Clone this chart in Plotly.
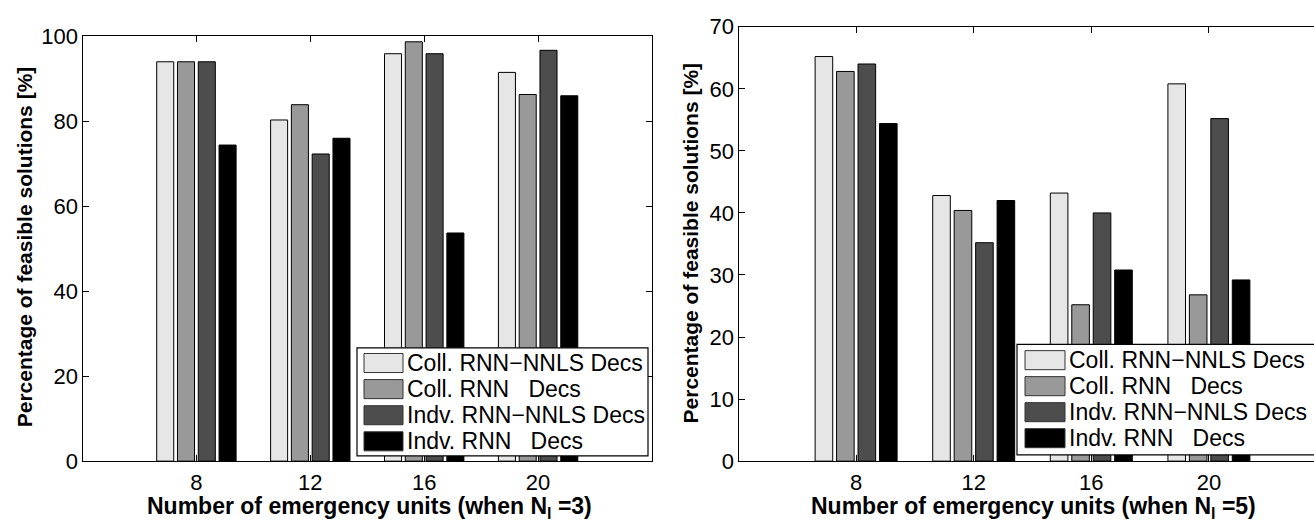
import plotly.graph_objects as go

# ---------------- data ----------------
units = [8, 12, 16, 20]
series_names = ["Coll. RNN\u2212NNLS Decs", "Coll. RNN\u00a0\u00a0\u00a0Decs",
                "Indv. RNN\u2212NNLS Decs", "Indv. RNN\u00a0\u00a0\u00a0Decs"]

# N_l = 3 (left panel)
coll_nnls_3 = [94.0, 80.3, 95.9, 91.5]
coll_rnn_3 = [94.0, 83.9, 98.7, 86.3]
indv_nnls_3 = [94.0, 72.3, 95.9, 96.7]
indv_rnn_3 = [74.4, 76.0, 53.7, 86.0]

# N_l = 5 (right panel)
coll_nnls_5 = [65.2, 42.8, 43.2, 60.8]
coll_rnn_5 = [62.8, 40.4, 25.2, 26.8]
indv_nnls_5 = [64.0, 35.2, 40.0, 55.2]
indv_rnn_5 = [54.4, 42.0, 30.8, 29.2]

left_ticks = [0, 20, 40, 60, 80, 100]
right_ticks = [0, 10, 20, 30, 40, 50, 60, 70]

# ---------------- style ----------------
W, H = 1314, 527
colors = ["#e6e6e6", "#999999", "#4d4d4d", "#000000"]
FONT = "Liberation Sans, Arial, Helvetica, sans-serif"
TICK_SIZE = 22
LEG_SIZE = 23
TITLE_SIZE = 23


def px(x):
    return x / W


def py(y):
    return 1 - y / H


xpos = list(range(1, len(units) + 1))

fig = go.Figure()
left_data = [coll_nnls_3, coll_rnn_3, indv_nnls_3, indv_rnn_3]
right_data = [coll_nnls_5, coll_rnn_5, indv_nnls_5, indv_rnn_5]
for name, vals, c in zip(series_names, left_data, colors):
    fig.add_trace(go.Bar(x=xpos, y=vals, name=name, marker=dict(color=c, line=dict(color="#000", width=1)),
                         xaxis="x", yaxis="y", showlegend=False))
for name, vals, c in zip(series_names, right_data, colors):
    fig.add_trace(go.Bar(x=xpos, y=vals, name=name, marker=dict(color=c, line=dict(color="#000", width=1)),
                         xaxis="x2", yaxis="y2", showlegend=False))

axis_common = dict(showgrid=False, zeroline=False, showline=True, linecolor="#000", linewidth=1.2,
                   ticks="inside", ticklen=6, tickwidth=1, tickcolor="#000",
                   tickfont=dict(family=FONT, size=TICK_SIZE, color="#000"))

fig.update_layout(
    width=W, height=H, margin=dict(l=0, r=0, t=0, b=0),
    paper_bgcolor="white", plot_bgcolor="white",
    barmode="group", bargap=0.27, bargroupgap=0.18,
    xaxis=dict(domain=[px(82.5), px(652)], range=[0, 5], tickvals=xpos, ticktext=[str(u) for u in units],
               mirror="ticks", anchor="y", ticklabelstandoff=1, **axis_common),
    yaxis=dict(domain=[py(471.5), py(25.5)], range=[0, 100], tickvals=left_ticks,
               mirror="ticks", anchor="x", ticklabelstandoff=-1, **axis_common),
    xaxis2=dict(domain=[px(738.5), 1.0], range=[0, 575.5 / 117.6], tickvals=xpos,
                ticktext=[str(u) for u in units], mirror="ticks", anchor="y2", ticklabelstandoff=1,
                **axis_common),
    yaxis2=dict(domain=[py(471.5), py(15.5)], range=[0, 70], tickvals=right_ticks,
                mirror=False, anchor="x2", ticklabelstandoff=-1, **axis_common),
)

annotations = []
shapes = []

# axis titles
annotations.append(dict(text="<b>Number of emergency units (when N<sub>l</sub> =3)</b>", x=px(369), y=py(520),
                        xref="paper", yref="paper", xanchor="center", yanchor="middle", showarrow=False,
                        font=dict(family=FONT, size=TITLE_SIZE, color="#000")))
annotations.append(dict(text="<b>Number of emergency units (when N<sub>l</sub> =5)</b>", x=px(1033), y=py(520),
                        xref="paper", yref="paper", xanchor="center", yanchor="middle", showarrow=False,
                        font=dict(family=FONT, size=TITLE_SIZE, color="#000")))
annotations.append(dict(text="<b>Percentage of feasible solutions [%]</b>", x=px(24), y=py(247),
                        xref="paper", yref="paper", xanchor="center", yanchor="middle", showarrow=False,
                        textangle=-90, font=dict(family=FONT, size=TITLE_SIZE - 2, color="#000")))
annotations.append(dict(text="<b>Percentage of feasible solutions [%]</b>", x=px(690), y=py(243),
                        xref="paper", yref="paper", xanchor="center", yanchor="middle", showarrow=False,
                        textangle=-90, font=dict(family=FONT, size=TITLE_SIZE - 2, color="#000")))


def add_legend(box_x0, box_x1, box_y0, box_y1, sw_x0, sw_x1, text_x, row_y, row_h):
    shapes.append(dict(type="rect", xref="paper", yref="paper", x0=px(box_x0), x1=px(box_x1),
                       y0=py(box_y1), y1=py(box_y0), fillcolor="white", line=dict(color="#000", width=1.2),
                       layer="above"))
    for i, (name, c) in enumerate(zip(series_names, colors)):
        yc = row_y + i * row_h
        shapes.append(dict(type="rect", xref="paper", yref="paper", x0=px(sw_x0), x1=px(sw_x1),
                           y0=py(yc + 10), y1=py(yc - 10), fillcolor=c, line=dict(color="#333", width=1),
                           layer="above"))
        annotations.append(dict(text=name, x=px(text_x), y=py(yc), xref="paper", yref="paper",
                                xanchor="left", yanchor="middle", showarrow=False,
                                font=dict(family=FONT, size=LEG_SIZE, color="#000")))


add_legend(357, 648, 352.5, 466, 364, 403, 405, 368.5, 27.4)
add_legend(1017, 1340, 349, 465, 1025, 1065, 1067, 365.5, 27.3)

fig.update_layout(annotations=annotations, shapes=shapes)
fig.write_html("out.html")
